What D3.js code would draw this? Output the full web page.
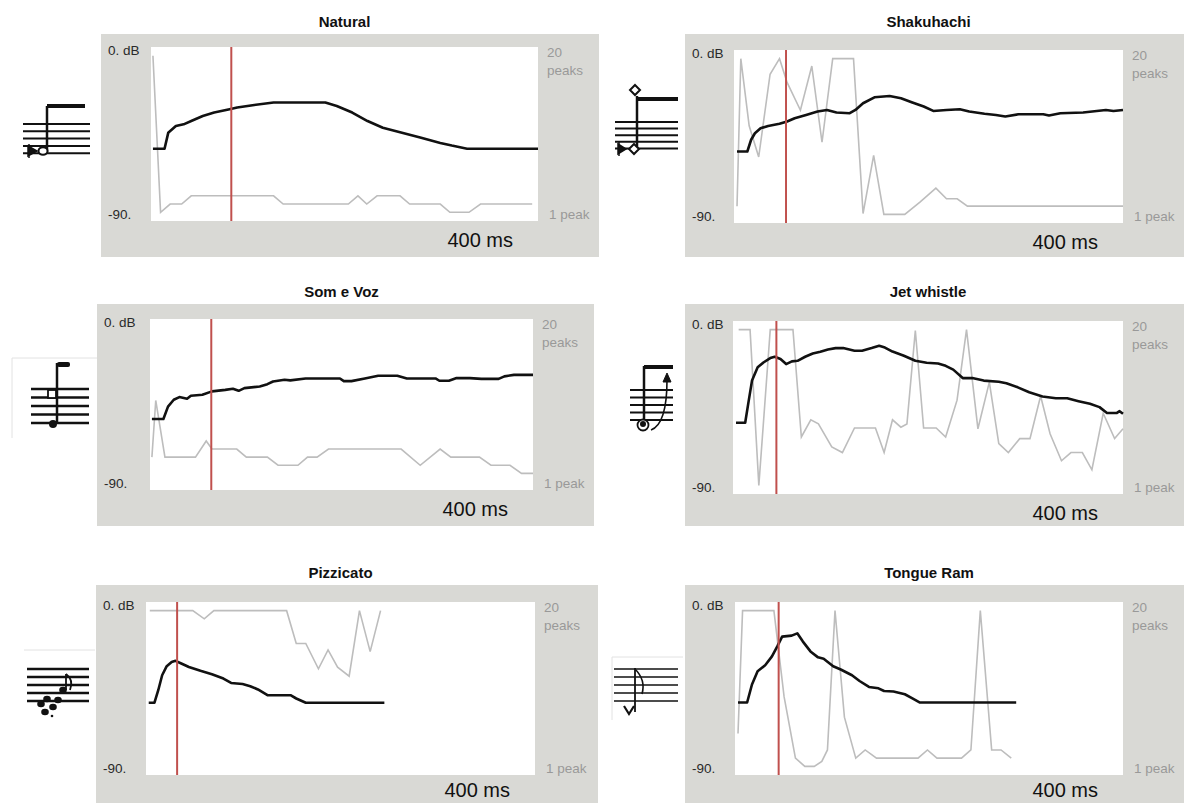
<!DOCTYPE html>
<html><head><meta charset="utf-8">
<script src="https://cdn.jsdelivr.net/npm/d3@7"></script>
<style>body{margin:0;background:#fff;} svg{display:block;font-family:"Liberation Sans",Arial,sans-serif;}</style>
</head><body><svg id="c" width="1184" height="803"></svg>
<script>
// ---------- DATA ----------
const titles = ["Natural", "Shakuhachi", "Som e Voz", "Jet whistle", "Pizzicato", "Tongue Ram"];
const dbTicks = ["0. dB", "-90."];
const peakTicks = ["20", "peaks", "1 peak"];
const durationLabel = "400 ms";
const markerMs = [83, 53.5, 64, 44.5, 32, 45];

// amplitude envelopes: [ms, dB]
const naturalLevel = [[2,-52.6],[14,-52.6],[17.8,-44.4],[25.7,-40.9],[33.7,-40],[41.6,-38.3],[53.5,-35.7],[65.3,-33.9],[81.2,-32.2],[89.1,-31.3],[105,-30.1],[126.7,-28.7],[180.2,-28.7],[192,-30.5],[208,-33.9],[223.8,-38.3],[239.6,-41.8],[259.4,-44.4],[279.2,-47],[299,-49.6],[310.9,-51],[326.7,-52.6],[400,-52.6]];
const shakuhachiLevel = [[3.1,-52.8],[13.7,-52.8],[17.6,-46.7],[21.5,-43.3],[27.3,-40.7],[35.1,-39.5],[46.8,-38.4],[54.6,-37.2],[62.4,-35.5],[74.1,-33.8],[85.9,-32],[95.6,-31.2],[105.4,-32.5],[119,-32.9],[124.9,-31.2],[132.7,-27.7],[144.4,-24.6],[160,-23.9],[171.7,-25.1],[183.4,-27.3],[195.1,-29.4],[204.9,-31.7],[218.5,-31.2],[232.2,-30.8],[241.9,-32],[257.6,-33.2],[269.3,-33.8],[279,-34.6],[292.7,-33.4],[318,-33.4],[323.9,-34.1],[335.6,-32.9],[359,-32.5],[382.4,-31.2],[390.2,-31.7],[400,-31.2]];
const somVozLevel = [[2,-52.6],[14,-52.6],[18.8,-46.1],[24.8,-42.5],[30.7,-41.1],[38.7,-42],[42.7,-40.4],[54.7,-39.9],[64.7,-38.1],[78.6,-37.3],[86.6,-36.7],[92.6,-37.8],[98.6,-36.4],[114.6,-35.5],[122.6,-34.3],[128.5,-32.9],[140.5,-32],[146.5,-32.3],[162.5,-31.3],[198.4,-31.3],[202.4,-32.7],[210.4,-32.7],[224.4,-31.3],[238.3,-29.9],[258.3,-29.9],[268.3,-31.3],[298.2,-31.3],[302.2,-32.5],[312.2,-32.5],[320.2,-31.1],[334.1,-31.1],[346.1,-31.5],[364.1,-31.5],[370.1,-30.2],[380.1,-29.4],[400,-29.4]];
const jetLevel = [[3.1,-52.9],[12.5,-52.9],[15.6,-43.1],[19.5,-31],[25.3,-24.1],[31.2,-21.6],[38.2,-19.3],[42.8,-18.6],[48.7,-19.8],[54.5,-22.4],[60.4,-21],[66.2,-20.7],[74,-18.6],[81.8,-16.9],[89.6,-16],[97.4,-14.8],[105.2,-14.1],[113,-14.1],[124.6,-15.5],[132.4,-15.5],[142.2,-14.1],[149.9,-12.9],[155.8,-13.8],[163.6,-15.9],[175.3,-18.1],[187,-20.7],[198.6,-21.7],[210.3,-22.1],[218.1,-23.3],[225.9,-25.3],[235.6,-29.7],[245.4,-29.7],[257.1,-31],[272.6,-31.6],[280.4,-32.4],[292.1,-34.5],[303.8,-37.1],[317.4,-39.3],[331.1,-40.2],[342.8,-40.2],[354.4,-41.7],[366.1,-43.1],[375.9,-44.8],[383.6,-47.9],[393.4,-47.9],[396.5,-46.9],[400,-48.3]];
const pizzicatoLevel = [[2.8,-52.4],[8.7,-52.4],[12.6,-45.9],[16.6,-38.1],[21.3,-33.4],[26.4,-31.2],[30.3,-30.6],[36.3,-32],[44.1,-33.8],[56,-35.8],[67.8,-37.6],[79.6,-39.8],[87.5,-42.1],[99.3,-42.7],[107.2,-43.8],[115.1,-45.5],[124.9,-48.5],[148.6,-48.5],[154.5,-50.2],[164.3,-52.4],[245.1,-52.4]];
const tongueLevel = [[3.1,-52.3],[12.5,-52.3],[17.5,-42.9],[23.3,-36],[31.1,-32.9],[38.1,-28.3],[43.6,-23.1],[48.6,-18],[58.4,-17.5],[64.2,-16.3],[70,-20.6],[77.8,-25.7],[85.6,-28.8],[91.4,-29.5],[101.2,-33.4],[109,-35.1],[120.6,-38.1],[128.4,-41.1],[138.1,-44.2],[147.9,-44.9],[153.7,-46.3],[163.4,-46.6],[175.1,-48],[182.9,-50.1],[190.7,-52.3],[289.9,-52.3]];

// number of spectral peaks: [ms, peaks]
const naturalPeaks = [[2,20],[9.9,1],[19.8,2],[31.7,2],[41.6,3],[126.7,3],[136.6,2],[204,2],[213.9,3],[223,2],[233.7,3],[257.4,3],[267.3,2],[299,2],[308.9,1],[328.7,1],[340.6,2],[394,2]];
const shakuhachiPeaks = [[3.1,2],[7,20],[15.6,11.8],[25.4,8],[37.1,18.1],[46.8,20],[54.6,17.1],[68.3,13.7],[80,19.1],[90.5,9.8],[101.5,20],[122.9,20],[132.7,1.1],[143.6,8.2],[154.1,1],[175.6,1],[191.2,2.5],[207.6,4.2],[218.5,2.9],[229.5,2.9],[240,2],[400,2]];
const somVozPeaks = [[2,4],[6,11],[15.6,4],[47.5,4],[58.7,6],[64.7,5],[90.6,5],[100.6,4],[122.6,4],[133.7,3],[154.5,3],[164.5,4],[174.5,4],[186.4,5],[262.3,5],[282.2,3],[303,5],[314.2,4],[344.1,4],[356.1,3],[376,3],[388,2],[400,2]];
const jetPeaks = [[5.8,20],[17.5,20],[26.5,1],[38.2,20],[61.5,20],[70.1,6.9],[79.8,9],[87.6,8.5],[101.3,5.7],[112.2,5],[124.6,8],[146.1,8],[155,5],[163.6,9],[172.2,8.1],[178.4,8.5],[187,19.9],[195.5,8],[208.4,8],[218.1,6.9],[229.8,11.4],[239.5,20],[251.2,7.9],[262.9,13.6],[272.6,6.1],[282.4,5],[294.1,6.7],[304.6,6.7],[315.5,11.9],[325.2,7.3],[336.9,4],[346.6,5],[358.3,5],[368.1,2.9],[379.7,9.8],[391.4,6.7],[400,7.9]];
const pizzicatoPeaks = [[3.9,20],[48.1,20],[59.9,19],[69.8,20],[144.6,20],[154.5,16],[164.3,16],[177.3,12.9],[187.2,15.2],[197,13.1],[208.9,12],[219.5,20],[230.5,15],[241.2,20]];
const tonguePeaks = [[3.1,5],[7.8,20],[40.1,20],[50.6,9.5],[62.3,2],[72,1],[81.7,1],[89.5,1.6],[95.3,3],[103.1,20],[112.8,7],[124.5,2],[134.2,3],[145.9,2],[188.7,2],[198.4,3],[208.2,2],[233.5,2],[243.2,3],[252.9,20],[264.6,3],[274.3,3],[284.8,2]];

const levelSeries = [naturalLevel, shakuhachiLevel, somVozLevel, jetLevel, pizzicatoLevel, tongueLevel];
const peakSeries = [naturalPeaks, shakuhachiPeaks, somVozPeaks, jetPeaks, pizzicatoPeaks, tonguePeaks];

// ---------- LAYOUT ----------
const layout = [
  {grey:[101,34,599,257], plot:[151,47,538,221], ty:27, my:247},
  {grey:[685,34,1184,257], plot:[734,50,1123,223], ty:27, my:249},
  {grey:[97,304,594,526], plot:[150,319,533,490], ty:297, my:516},
  {grey:[685,304,1184,526], plot:[733,321,1123,494], ty:297, my:520},
  {grey:[96,585,598,803], plot:[146,602,535,775], ty:578, my:797},
  {grey:[685,585,1184,803], plot:[735,602,1123,775], ty:578, my:797}
];

const svg = d3.select("#c");

layout.forEach((L, i) => {
  const [gx0, gy0, gx1, gy1] = L.grey;
  const [px0, py0, px1, py1] = L.plot;
  const g = svg.append("g");
  g.append("rect").attr("x", gx0).attr("y", gy0).attr("width", gx1 - gx0).attr("height", gy1 - gy0).attr("fill", "#d9d9d5");
  g.append("rect").attr("x", px0).attr("y", py0).attr("width", px1 - px0).attr("height", py1 - py0).attr("fill", "#fff");

  const h = py1 - py0;
  const x = d3.scaleLinear().domain([0, 400]).range([px0, px1]);
  const yDb = d3.scaleLinear().domain([-90, 0]).range([py1, py0]);
  const yPk = d3.scaleLinear().domain([1, 20]).range([py1 - 0.05 * h, py0 + 0.05 * h]);

  g.append("path").datum(peakSeries[i])
    .attr("d", d3.line().x(d => x(d[0])).y(d => yPk(d[1])))
    .attr("fill", "none").attr("stroke", "#bdbdbd").attr("stroke-width", 1.6);

  g.append("path").datum(levelSeries[i])
    .attr("d", d3.line().x(d => x(d[0])).y(d => yDb(d[1])))
    .attr("fill", "none").attr("stroke", "#111").attr("stroke-width", 2.6).attr("stroke-linejoin", "round");

  g.append("line").attr("x1", x(markerMs[i])).attr("x2", x(markerMs[i]))
    .attr("y1", py0).attr("y2", py1).attr("stroke", "#c0504d").attr("stroke-width", 2);

  // texts
  svg.append("text").attr("x", (px0 + px1) / 2).attr("y", L.ty).attr("text-anchor", "middle")
    .attr("font-size", 15).attr("font-weight", "bold").attr("fill", "#111").text(titles[i]);
  g.append("text").attr("x", gx0 + 7).attr("y", py0 + 8).attr("font-size", 13.5).attr("fill", "#2a2a2a").text(dbTicks[0]);
  g.append("text").attr("x", gx0 + 7).attr("y", py1 - 2).attr("font-size", 13.5).attr("fill", "#2a2a2a").text(dbTicks[1]);
  g.append("text").attr("x", px1 + 9).attr("y", py0 + 10).attr("font-size", 13.5).attr("fill", "#999").text(peakTicks[0]);
  g.append("text").attr("x", px1 + 9).attr("y", py0 + 28).attr("font-size", 13.5).attr("fill", "#999").text(peakTicks[1]);
  g.append("text").attr("x", px1 + 11).attr("y", py1 - 2).attr("font-size", 13.5).attr("fill", "#999").text(peakTicks[2]);
  g.append("text").attr("x", px1 - 25).attr("y", L.my).attr("text-anchor", "end")
    .attr("font-size", 20).attr("fill", "#111").text(durationLabel);
});

// ---------- NOTATION ICONS (decorative) ----------
const ic = svg.append("g").attr("stroke", "#111").attr("fill", "none");
function staff(x0, x1, y0, sp, w) {
  for (let k = 0; k < 5; k++) ic.append("line").attr("x1", x0).attr("x2", x1)
    .attr("y1", y0 + k * sp).attr("y2", y0 + k * sp).attr("stroke-width", w || 2);
}
function ln(x1, y1, x2, y2, w) { ic.append("line").attr("x1", x1).attr("y1", y1).attr("x2", x2).attr("y2", y2).attr("stroke-width", w || 2); }
function pth(d, w, fill) { ic.append("path").attr("d", d).attr("stroke-width", w || 2).attr("fill", fill || "none"); }

// Natural
staff(23, 90, 124, 7.3, 2);
ln(47, 106, 47, 152, 2.5);
ic.append("rect").attr("x", 47).attr("y", 104).attr("width", 38).attr("height", 4).attr("fill", "#111").attr("stroke", "none");
ic.append("ellipse").attr("cx", 43).attr("cy", 151).attr("rx", 4.5).attr("ry", 3.8).attr("fill", "#fff").attr("stroke-width", 2);
pth("M28 146 L37 151 L28 156 Z", 1.5, "#111"); ln(29, 144, 29, 158, 1.5);

// Shakuhachi
staff(615, 678, 122, 6.6, 2);
ln(637, 96, 637, 150, 2.5);
ic.append("rect").attr("x", 637).attr("y", 97).attr("width", 41).attr("height", 4).attr("fill", "#111").attr("stroke", "none");
pth("M635 85 L640 90 L635 95 L630 90 Z", 2, "#fff");
pth("M634 144 L639 149 L634 154 L629 149 Z", 2, "#fff");
pth("M618 144 L626 149 L618 154 Z", 1.5, "#111"); ln(619, 142, 619, 156, 1.5);

// Som e Voz
ic.append("path").attr("d", "M12 438 L12 358 L97 358").attr("stroke", "#e2e2e2").attr("stroke-width", 1);
staff(31, 89, 389, 8.5, 2.5);
ln(57, 363, 57, 423, 2.5);
ic.append("rect").attr("x", 57).attr("y", 362).attr("width", 13).attr("height", 5).attr("rx", 2).attr("fill", "#111").attr("stroke", "none");
ic.append("circle").attr("cx", 53).attr("cy", 424).attr("r", 4).attr("fill", "#111").attr("stroke", "none");
ic.append("rect").attr("x", 48).attr("y", 390).attr("width", 8).attr("height", 8).attr("fill", "#fff").attr("stroke-width", 1.8);

// Jet whistle
staff(630, 673, 390, 7.5, 1.8);
ln(644, 366, 644, 422, 2.5);
ic.append("rect").attr("x", 644).attr("y", 365).attr("width", 29).attr("height", 4).attr("fill", "#111").attr("stroke", "none");
ic.append("circle").attr("cx", 643).attr("cy", 425).attr("r", 5.5).attr("fill", "#fff").attr("stroke-width", 1.8);
ic.append("circle").attr("cx", 643).attr("cy", 424).attr("r", 3).attr("fill", "#111").attr("stroke", "none");
pth("M651 430 Q667 424 667 380", 1.6);
pth("M663 382 L667 373 L671 382 Z", 1, "#111");

// Pizzicato
ic.append("line").attr("x1", 24).attr("x2", 95).attr("y1", 650).attr("y2", 650).attr("stroke", "#e2e2e2").attr("stroke-width", 1);
staff(27, 89, 669, 8, 2.5);
[[41, 704], [47, 699], [53, 707], [58, 700], [45, 712], [63, 690]].forEach(p =>
  ic.append("ellipse").attr("cx", p[0]).attr("cy", p[1]).attr("rx", 3.8).attr("ry", 3.2).attr("fill", "#111").attr("stroke", "none"));
ln(66, 690, 66, 674, 1.8);
pth("M66 674 Q74 680 70 690", 1.8);
ic.append("circle").attr("cx", 52).attr("cy", 716).attr("r", 1.3).attr("fill", "#111").attr("stroke", "none");

// Tongue Ram
ic.append("path").attr("d", "M612 720 L612 657 L683 657").attr("stroke", "#e2e2e2").attr("stroke-width", 1);
staff(614, 678, 669, 8, 1.6);
ln(635, 668, 635, 712, 1.8);
pth("M635 669 Q646 680 642 694", 1.6);
pth("M624 706 L629 714 L634 706", 2.2);
</script></body></html>
